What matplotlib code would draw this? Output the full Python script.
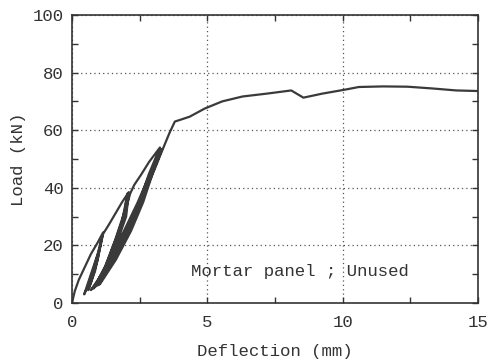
import numpy as np
import matplotlib
matplotlib.use("Agg")
import matplotlib.pyplot as plt
from matplotlib.ticker import MultipleLocator

# load-deflection record (mm, kN):
# envelope up to ~24 kN, two small cycles, envelope to ~38 kN, three cycles,
# envelope to ~54 kN, four cycles, then monotonic loading to 15 mm
deflection = [
    0.0, 0.1, 0.25, 0.45, 0.7, 0.95, 1.15,
    1.05, 0.8, 0.55, 0.45,
    0.7, 0.95, 1.12,
    0.95, 0.7, 0.6,
    0.85, 1.15,
    1.35, 1.6, 1.85, 2.1,
    2.0, 1.75, 1.35, 1.0, 0.7,
    1.1, 1.5, 1.8, 2.05,
    1.95, 1.6, 1.2, 0.8,
    1.25, 1.65, 1.95, 2.1,
    2.0, 1.7, 1.3, 0.85,
    1.35, 1.8, 2.15,
    2.3, 2.55, 2.85, 3.25,
    2.85, 2.48, 2.02, 1.45, 0.85,
    1.36, 1.92, 2.43, 2.89, 3.28,
    2.91, 2.54, 2.08, 1.52, 0.92,
    1.43, 1.98, 2.49, 2.94, 3.3,
    2.95, 2.59, 2.14, 1.57, 0.98,
    1.47, 2.01, 2.5, 2.95, 3.33,
    2.98, 2.63, 2.18, 1.62, 1.03,
    1.52, 2.05, 2.54, 2.99, 3.38,
    3.6, 3.8, 4.0, 4.35, 4.9, 5.55, 6.3, 7.2, 8.1,
    8.55, 9.25, 10.1, 10.6, 11.5, 12.4, 13.3, 14.2, 15.0,
]
load = [
    0.0, 4.0, 8.0, 12.0, 17.0, 21.0, 24.5,
    20.0, 12.0, 5.0, 3.0,
    10.0, 17.0, 23.5,
    15.0, 7.0, 4.5,
    11.0, 24.0,
    27.0, 31.0, 35.0, 38.5,
    33.0, 25.0, 15.0, 8.0, 4.5,
    10.0, 18.0, 26.0, 38.0,
    32.0, 22.0, 12.0, 5.0,
    13.0, 23.0, 31.0, 38.0,
    30.0, 22.0, 13.0, 5.5,
    14.0, 26.0, 38.0,
    41.0, 44.5, 49.0, 54.0,
    45.0, 35.0, 25.0, 15.0, 6.0,
    15.0, 25.0, 35.0, 45.0, 53.5,
    45.0, 35.0, 25.0, 15.0, 6.0,
    15.0, 25.0, 35.0, 45.0, 53.0,
    45.0, 35.0, 25.0, 15.0, 6.2,
    15.0, 25.0, 35.0, 45.0, 53.5,
    45.0, 35.0, 25.0, 15.0, 6.5,
    15.0, 25.0, 35.0, 45.0, 54.0,
    59.0, 63.0, 63.6, 64.7, 67.5, 70.0, 71.7, 72.7, 73.8,
    71.3, 72.7, 74.1, 75.0, 75.2, 75.1, 74.5, 73.8, 73.6,
]

label_font = "Liberation Mono"
ink = "#333333"

fig = plt.figure(figsize=(4.88, 3.63), dpi=100)
ax = fig.add_axes([0.1475, 0.1653, 0.832, 0.7934])

ax.plot(deflection, load, color="#3a3a3a", lw=1.6, solid_joinstyle="round")

ax.set_xlim(0, 15)
ax.set_ylim(0, 100)
ax.xaxis.set_major_locator(MultipleLocator(5))
ax.xaxis.set_minor_locator(MultipleLocator(2.5))
ax.yaxis.set_major_locator(MultipleLocator(20))
ax.yaxis.set_minor_locator(MultipleLocator(10))
ax.tick_params(which="both", direction="in", top=True, right=True,
               length=4, width=1.0, color=ink, labelsize=12.5)
ax.tick_params(axis="x", pad=9)
ax.tick_params(axis="y", pad=6)
ax.grid(True, which="major", linestyle=(0, (1, 2.5)), color="#555555", lw=0.9)

for lab in ax.get_xticklabels() + ax.get_yticklabels():
    lab.set_fontfamily(label_font)
    lab.set_color(ink)

for s in ax.spines.values():
    s.set_color(ink)
    s.set_linewidth(1.2)

ax.set_xlabel("Deflection (mm)", fontfamily=label_font, fontsize=12.5,
              color=ink, labelpad=10)
ax.set_ylabel("Load (kN)", fontfamily=label_font, fontsize=12.5,
              color=ink, labelpad=5)

ax.text(4.4, 10.8, "Mortar panel ; Unused", fontfamily=label_font,
        fontsize=12.5, color=ink, va="center", ha="left")

fig.savefig("out.png", dpi=100)
